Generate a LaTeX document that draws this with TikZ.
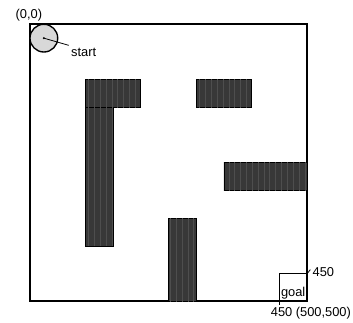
\documentclass[tikz,border=0pt]{standalone}
\usepackage{fontspec}
\setmainfont{Liberation Sans}
\usetikzlibrary{positioning,patterns}
\definecolor{blockgray}{HTML}{383838}
\definecolor{stripegray}{HTML}{4E4E4E}
\definecolor{robotgray}{HTML}{D8D8D8}
\tikzset{
  lbl/.style={font=\fontsize{6.6}{8}\selectfont, inner sep=1pt},
  arena/.style={draw=black, line width=0.9pt},
  block/.style={draw=black, line width=0.4pt, fill=blockgray,
    postaction={pattern=vertical lines, pattern color=stripegray}},
  robot/.style={circle, draw=black, line width=0.7pt, fill=robotgray,
    minimum size=0.5cm, inner sep=0pt},
  goalbox/.style={rectangle, draw=black, line width=0.4pt,
    minimum size=0.5cm, inner sep=0pt},
  tick/.style={draw=black, line width=0.4pt}
}

\begin{document}
\begin{tikzpicture}[x=0.01cm, y=-0.01cm]
\useasboundingbox (-54.15,-43.86) rectangle (583.0,537.4);
% arena
\draw[arena] (0,0) rectangle (500,500);
\node[lbl] (origin) at (-2,-16) {(0,0)};
% obstacles
\draw[block] (100,100) rectangle (200,150);
\draw[block] (100,150) rectangle (150,400);
\draw[block] (300,100) rectangle (400,150);
\draw[block] (350,250) rectangle (500,300);
\draw[block] (250,350) rectangle (300,500);
% start
\node[robot] (robot) at (25,25) {};
\fill (robot.center) circle (0.6pt);
\node[lbl, anchor=north west] (start) at (70,38) {start};
\draw[tick] (robot.center) -- (start.north west);
% goal
\node[goalbox] (goal) at (475,475) {};
\node[lbl, above=0pt of goal.south] (goaltxt) {goal};
\node[lbl, anchor=west] (goalx) at (506,448) {450};
\draw[tick] (goal.north east) -- ([yshift=1.5pt]goalx.west);
\node[lbl] (goaly) at (507,521) {450 (500,500)};
\draw[tick] (goal.south west) -- (goal.south west |- goaly.north);
\end{tikzpicture}
\end{document}
